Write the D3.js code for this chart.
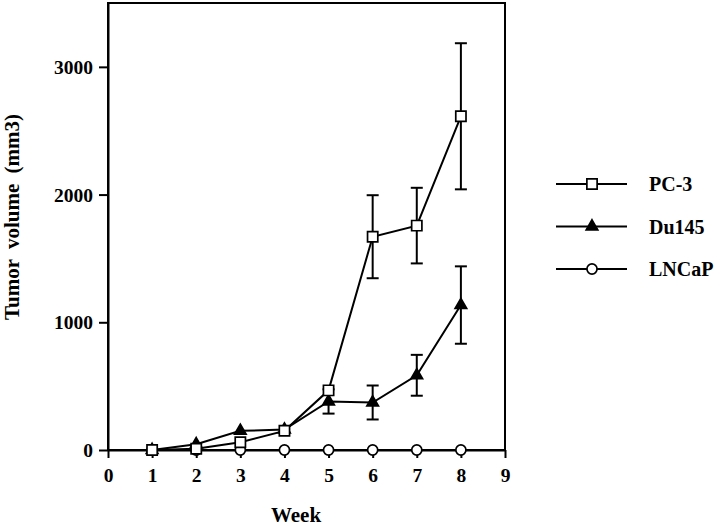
<!DOCTYPE html>
<html>
<head>
<meta charset="utf-8">
<script src="https://cdn.jsdelivr.net/npm/d3@7"></script>
<style>
  html, body { margin: 0; padding: 0; background: #fff; }
  svg { display: block; }
  text { font-family: "Liberation Serif", "Times New Roman", serif; font-weight: bold; fill: #000; }
</style>
</head>
<body>
<div id="chart"></div>
<script>
const weeks = [1, 2, 3, 4, 5, 6, 7, 8];
const xTicks = [0, 1, 2, 3, 4, 5, 6, 7, 8, 9];
const yTicks = [0, 1000, 2000, 3000];
const pc3 = [0, 10, 60, 150, 467, 1670, 1757, 2613];
const pc3Err = [0, 0, 0, 0, 0, 325, 296, 572];
const du145 = [0, 45, 150, 160, 380, 372, 585, 1135];
const du145Err = [0, 0, 0, 0, 95, 133, 160, 303];
const lncap = [0, 0, 0, 0, 0, 0, 0, 0];
const seriesNames = ["PC-3", "Du145", "LNCaP"];

const W = 720, H = 526;
const svg = d3.select("#chart").append("svg").attr("width", W).attr("height", H);

const x = d3.scaleLinear().domain([0, 9]).range([108, 505]);
const y = d3.scaleLinear().domain([0, 3500]).range([450, 3]);

// frame
svg.append("rect").attr("x", x(0)).attr("y", y(3500)).attr("width", x(9) - x(0)).attr("height", y(0) - y(3500))
  .attr("fill", "none").attr("stroke", "#000").attr("stroke-width", 2);

// axes
const xAxis = svg.append("g").attr("transform", `translate(0,${y(0)})`)
  .call(d3.axisBottom(x).tickValues(xTicks).tickFormat(d3.format("d")).tickSize(8).tickSizeOuter(0));
const yAxis = svg.append("g").attr("transform", `translate(${x(0)},0)`)
  .call(d3.axisLeft(y).tickValues(yTicks).tickFormat(d3.format("d")).tickSize(9).tickSizeOuter(0));
[xAxis, yAxis].forEach(g => {
  g.select(".domain").attr("stroke", "#000").attr("stroke-width", 2);
  g.selectAll(".tick line").attr("stroke", "#000").attr("stroke-width", 2);
  g.selectAll(".tick text").style("font-family", '"Liberation Serif", serif').style("font-weight", "bold")
    .style("font-size", "19.5px").attr("fill", "#000");
});
xAxis.selectAll(".tick text").attr("dy", "0").attr("y", 32);
yAxis.selectAll(".tick text").attr("x", -15).attr("dy", "0.33em");

// axis titles
svg.append("text").attr("x", 296).attr("y", 522).attr("text-anchor", "middle").style("font-size", "21px").text("Week");
svg.append("text").attr("transform", "translate(19,217) rotate(-90)").attr("text-anchor", "middle")
  .style("font-size", "21px").style("word-spacing", "5px").text("Tumor volume (mm3)");

const line = d3.line().x((d, i) => x(weeks[i])).y(d => y(d));

function errorBars(vals, errs) {
  const g = svg.append("g");
  weeks.forEach((w, i) => {
    if (!errs[i]) return;
    const cx = x(w), top = y(vals[i] + errs[i]), bot = y(vals[i] - errs[i]);
    g.append("line").attr("x1", cx).attr("x2", cx).attr("y1", top).attr("y2", bot).attr("stroke", "#000").attr("stroke-width", 2);
    [top, bot].forEach(yy => g.append("line").attr("x1", cx - 6).attr("x2", cx + 6).attr("y1", yy).attr("y2", yy)
      .attr("stroke", "#000").attr("stroke-width", 2));
  });
}

errorBars(pc3, pc3Err);
errorBars(du145, du145Err);

[lncap, du145, pc3].forEach(vals => {
  svg.append("path").datum(vals).attr("d", line).attr("fill", "none").attr("stroke", "#000").attr("stroke-width", 2);
});

const symSquare = d3.symbol().type(d3.symbolSquare).size(105);
const symTri = d3.symbol().type(d3.symbolTriangle).size(58);
const symCircle = d3.symbol().type(d3.symbolCircle).size(80);

function markers(vals, sym, fill) {
  svg.append("g").selectAll("path").data(vals).join("path")
    .attr("d", sym).attr("transform", (d, i) => `translate(${x(weeks[i])},${y(d)})`)
    .attr("fill", fill).attr("stroke", "#000").attr("stroke-width", 1.7);
}
markers(lncap, symCircle, "#fff");
markers(du145, symTri, "#000");
markers(pc3, symSquare, "#fff");

// legend
const legendSyms = [[symSquare, "#fff"], [symTri, "#000"], [symCircle, "#fff"]];
seriesNames.forEach((name, i) => {
  const ly = 184 + i * 42.5;
  const g = svg.append("g");
  g.append("line").attr("x1", 556).attr("x2", 627).attr("y1", ly).attr("y2", ly).attr("stroke", "#000").attr("stroke-width", 2);
  g.append("path").attr("d", legendSyms[i][0]).attr("transform", `translate(592,${ly})`)
    .attr("fill", legendSyms[i][1]).attr("stroke", "#000").attr("stroke-width", 1.7);
  g.append("text").attr("x", 649).attr("y", ly + 7).style("font-size", "20px").text(name);
});
</script>
</body>
</html>
